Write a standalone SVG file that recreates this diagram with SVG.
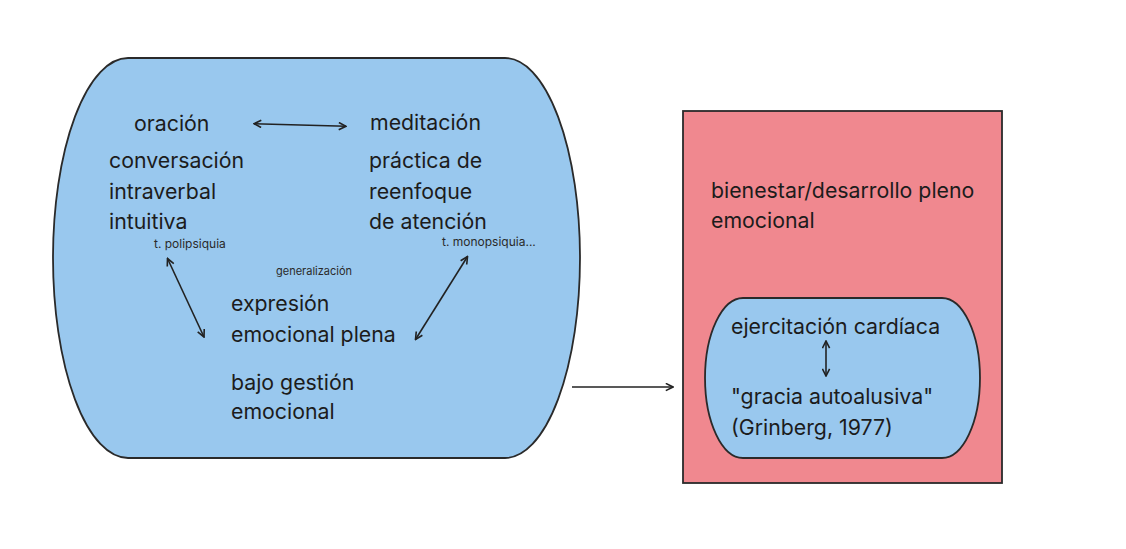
<svg xmlns="http://www.w3.org/2000/svg" width="1126" height="549" viewBox="0 0 1126 549">
<style>
.shape{stroke:#2a2a2a;stroke-width:1.8}
.blue{fill:#99c8ee}
.pink{fill:#f0888f}
.t{font-family:Inter,"Liberation Sans",sans-serif;font-size:21.3px;fill:#1c1c1c}
.s{font-family:Inter,"Liberation Sans",sans-serif;font-size:12px;fill:#2a2a2a}
.g{font-family:Inter,"Liberation Sans",sans-serif;font-size:11px;fill:#2a2a2a}
.c{stroke:#222;stroke-width:1.6;fill:none}
</style>
<defs>
<marker id="ah" viewBox="0 0 10 10" refX="9" refY="5" markerWidth="9" markerHeight="9" markerUnits="userSpaceOnUse" orient="auto-start-reverse">
<path d="M1 1 L9 5 L1 9" fill="none" stroke="#222" stroke-width="1.8"/>
</marker>
</defs>
<rect width="1126" height="549" fill="#ffffff"/>
<g id="node-left">
<path class="shape blue" d="M128 58 L505 58 A75 200 0 0 1 505 458 L128 458 A75 200 0 0 1 128 58 Z"/>
<text class="t" x="134" y="131">oración</text>
<text class="t" x="370" y="130">meditación</text>
<text class="t" x="109" y="168">conversación</text>
<text class="t" x="109" y="198.5">intraverbal</text>
<text class="t" x="109" y="229">intuitiva</text>
<text class="t" x="369" y="168">práctica de</text>
<text class="t" x="369" y="198.5">reenfoque</text>
<text class="t" x="369" y="229">de atención</text>
<text class="s" x="154" y="248">t. polipsiquia</text>
<text class="s" x="442" y="246">t. monopsiquia...</text>
<text class="g" x="276" y="275">generalización</text>
<text class="t" x="231" y="311">expresión</text>
<text class="t" x="231" y="342">emocional plena</text>
<text class="t" x="231" y="390">bajo gestión</text>
<text class="t" x="231" y="419">emocional</text>
</g>
<g id="node-right">
<rect class="shape pink" x="683" y="111" width="319" height="372"/>
<text class="t" x="711" y="198">bienestar/desarrollo pleno</text>
<text class="t" x="711" y="228">emocional</text>
</g>
<g id="node-inner">
<path class="shape blue" d="M743 298 L942 298 A38 80 0 0 1 942 458 L743 458 A38 80 0 0 1 743 298 Z"/>
<text class="t" x="731" y="334">ejercitación cardíaca</text>
<text class="t" x="731" y="404">"gracia autoalusiva"</text>
<text class="t" x="731" y="435">(Grinberg, 1977)</text>
</g>
<g id="connectors">
<line class="c" x1="254" y1="123.7" x2="346" y2="126.3" marker-start="url(#ah)" marker-end="url(#ah)"/>
<line class="c" x1="167.5" y1="258.5" x2="204" y2="337" marker-start="url(#ah)" marker-end="url(#ah)"/>
<line class="c" x1="467.5" y1="256.5" x2="415.5" y2="339.5" marker-start="url(#ah)" marker-end="url(#ah)"/>
<line class="c" x1="826" y1="341" x2="826" y2="376" marker-start="url(#ah)" marker-end="url(#ah)"/>
<line class="c" x1="572" y1="387" x2="673" y2="387" marker-end="url(#ah)"/>
</g>
</svg>
